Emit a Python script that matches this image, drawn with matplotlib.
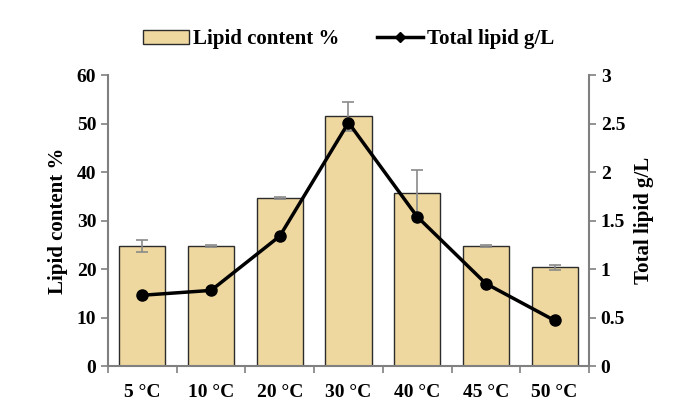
import matplotlib.pyplot as plt
from matplotlib.lines import Line2D
from matplotlib.patches import Patch

plt.rcParams['font.family'] = ['Liberation Serif', 'DejaVu Serif']
plt.rcParams['font.weight'] = 'bold'

# data
temps = ['5 °C', '10 °C', '20 °C', '30 °C', '40 °C', '45 °C', '50 °C']
lipid_content = [24.7, 24.8, 34.6, 51.5, 35.7, 24.8, 20.4]
lipid_err = [1.2, 0.2, 0.2, 3.0, 4.7, 0.2, 0.5]
total_lipid = [0.73, 0.78, 1.34, 2.51, 1.54, 0.85, 0.47]

fig = plt.figure(figsize=(6.84, 4.15), dpi=100)
ax = fig.add_axes([0.158, 0.118, 0.703, 0.701])
x = range(len(temps))

ax.bar(x, lipid_content, width=0.67, color='#EFD8A0', edgecolor='#2b2b2b',
       linewidth=1.0, zorder=2)
ax.errorbar(x, lipid_content, yerr=lipid_err, fmt='none', ecolor='#8a8a8a',
            elinewidth=1.2, capsize=4, capthick=1.2, zorder=3)

ax.set_xlim(-0.5, len(temps) - 0.5)
ax.set_ylim(0, 60)
ax.set_yticks(range(0, 61, 10))
ax.set_xticks(list(x))
ax.set_xticklabels(temps)
ax.set_xticks([i - 0.5 for i in range(len(temps) + 1)], minor=True)
ax.tick_params(axis='x', which='major', length=0, pad=13, labelsize=14)
ax.tick_params(axis='x', which='minor', length=5, width=1.2, color='#808080')
ax.tick_params(axis='y', length=5, width=1.2, color='#808080', labelsize=14)
ax.set_ylabel('Lipid content %', fontsize=15, fontweight='bold', labelpad=6)
for s in ['top', 'right']:
    ax.spines[s].set_visible(False)
for s in ['left', 'bottom']:
    ax.spines[s].set_color('#808080')
    ax.spines[s].set_linewidth(1.5)

ax2 = ax.twinx()
ax2.plot(x, total_lipid, color='black', linewidth=2.5, marker='o',
         markersize=8, zorder=4)
ax2.set_ylim(0, 3)
ax2.set_yticks([0, 0.5, 1, 1.5, 2, 2.5, 3])
ax2.set_yticklabels(['0', '0.5', '1', '1.5', '2', '2.5', '3'])
ax2.tick_params(axis='y', length=5, width=1.2, color='#808080', labelsize=14)
ax2.set_ylabel('Total lipid g/L', fontsize=15, fontweight='bold', labelpad=6)
for s in ['top', 'left', 'bottom']:
    ax2.spines[s].set_visible(False)
ax2.spines['right'].set_color('#808080')
ax2.spines['right'].set_linewidth(1.5)

handles = [Patch(facecolor='#EFD8A0', edgecolor='#2b2b2b', label='Lipid content %'),
           Line2D([0], [0], color='black', linewidth=2.5, marker='D',
                  markersize=5, label='Total lipid g/L')]
fig.legend(handles=handles, loc='center', bbox_to_anchor=(0.51, 0.905), ncol=2,
           frameon=False, fontsize=15, handlelength=2.2, columnspacing=1.8,
           handletextpad=0.2)

fig.savefig('out.png', dpi=100)
